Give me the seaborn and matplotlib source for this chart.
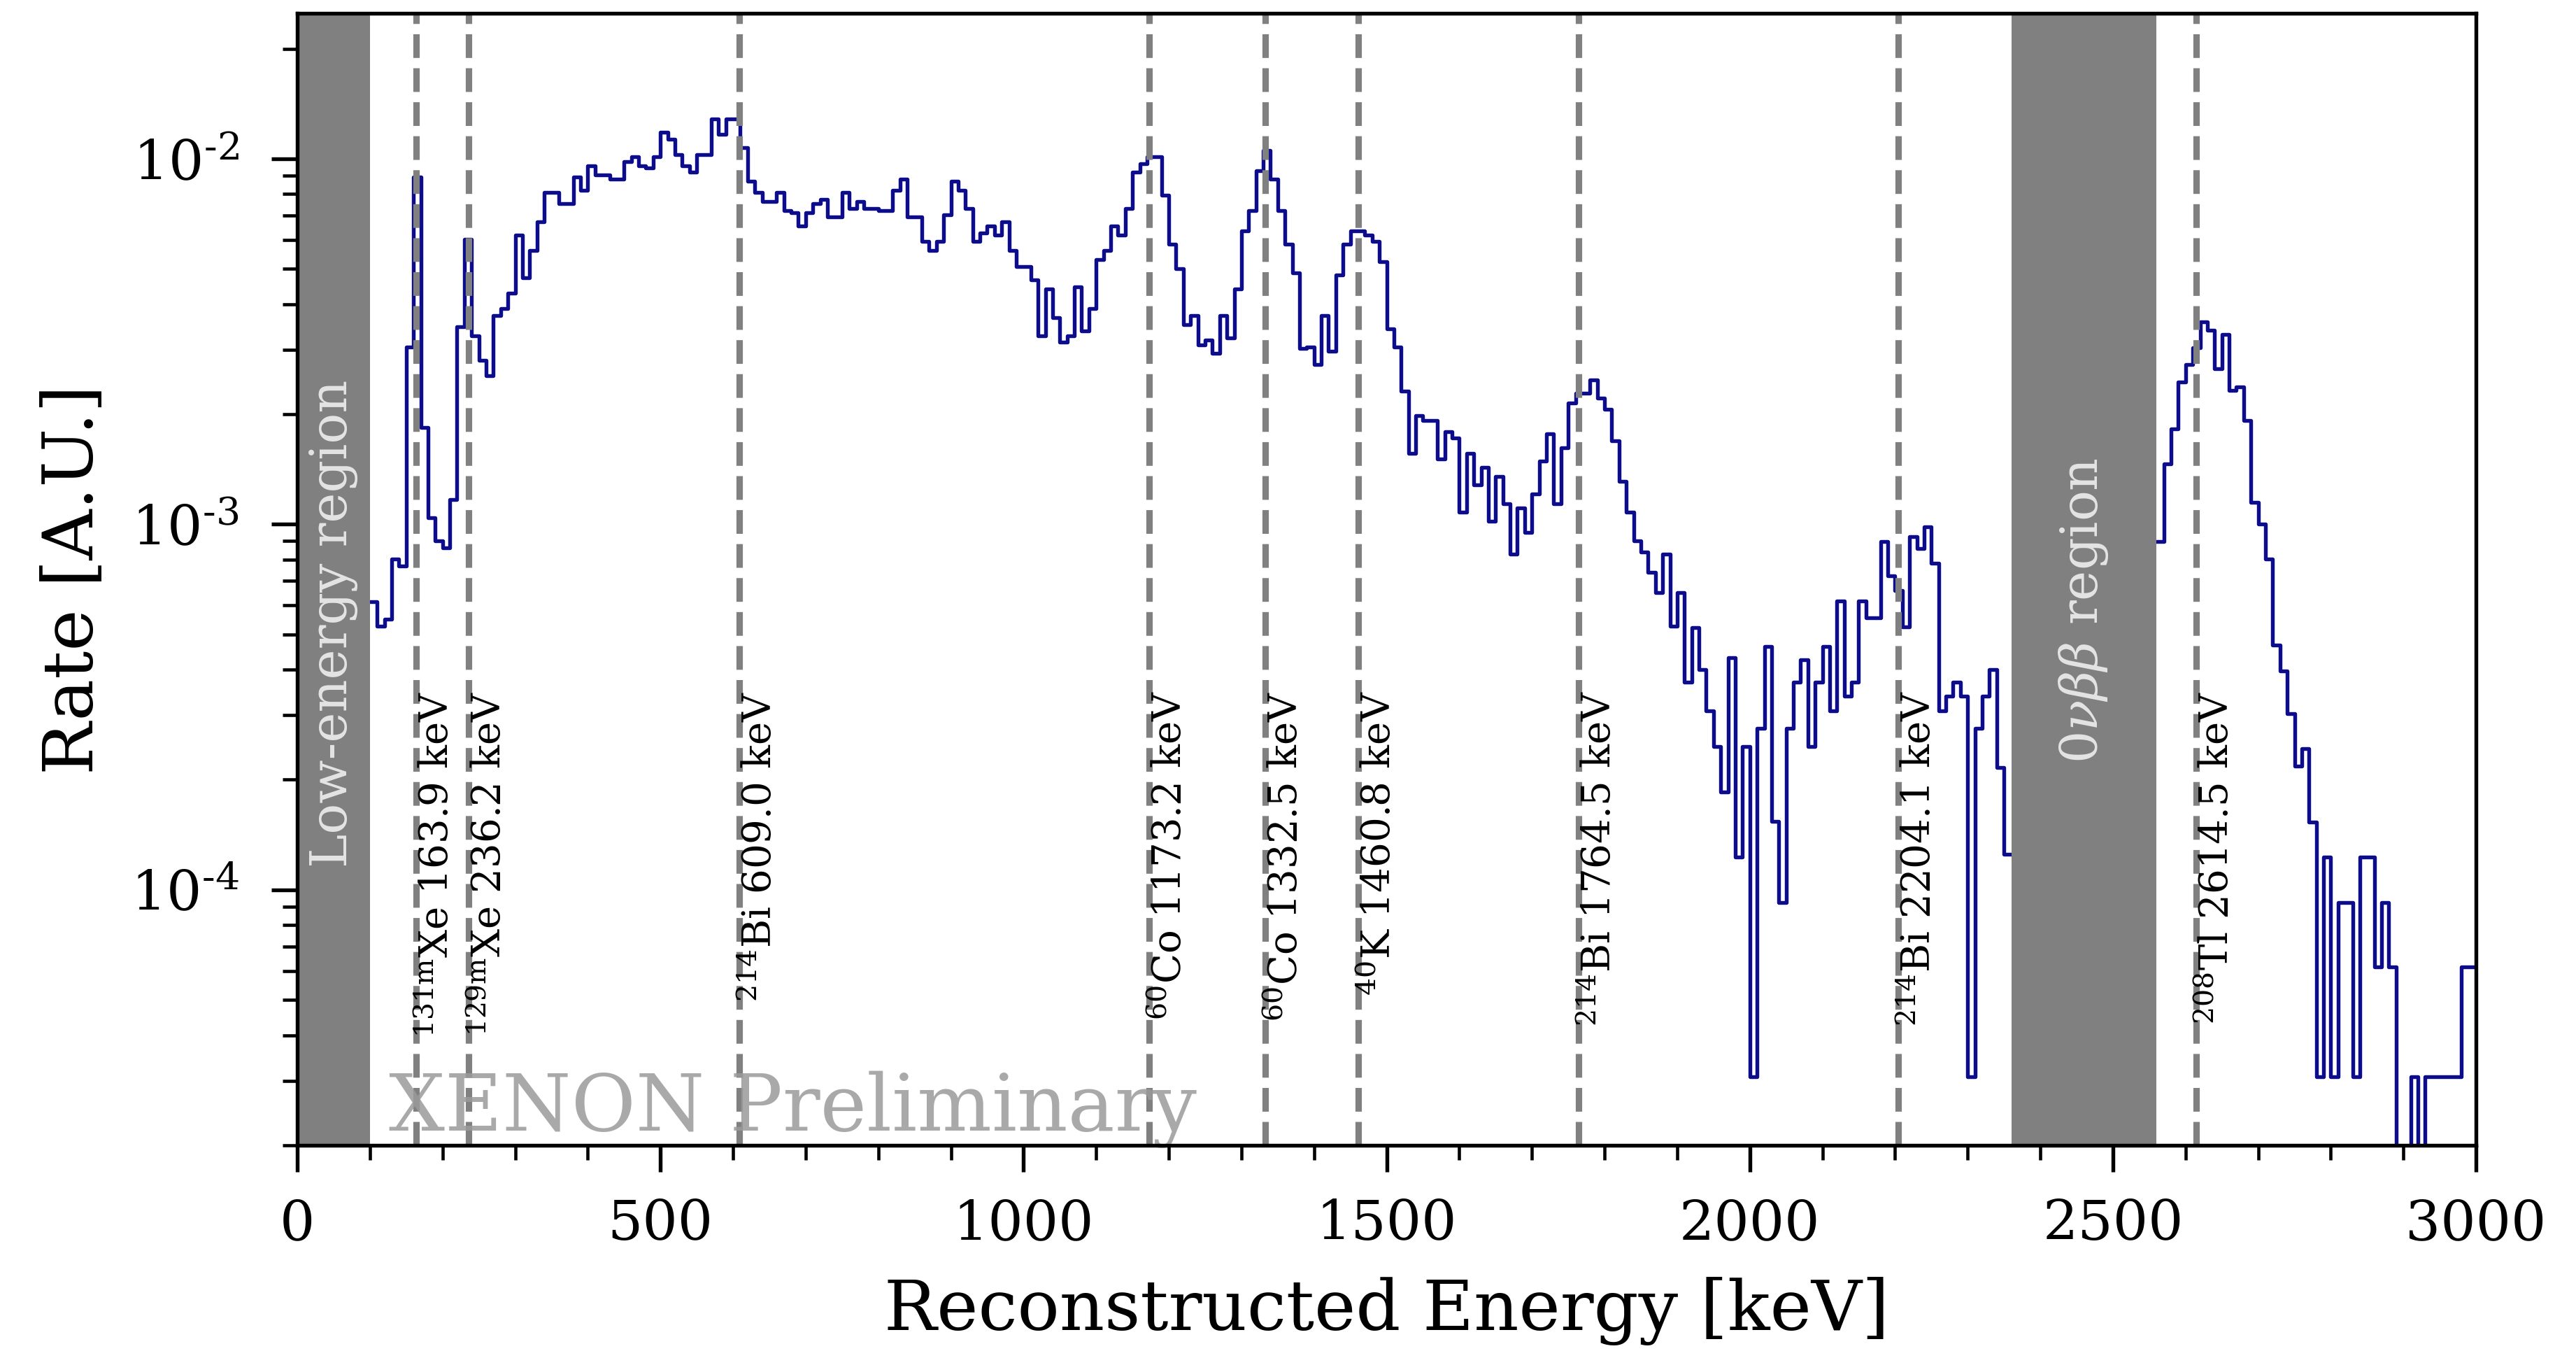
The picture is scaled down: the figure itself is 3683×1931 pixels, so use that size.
import numpy as np
import pandas as pd
import matplotlib
matplotlib.use("Agg")
import matplotlib.pyplot as plt
from matplotlib.ticker import MultipleLocator, FuncFormatter
import seaborn as sns

# ---------------- data ----------------
bin_width_kev = 10

# visible spectrum below the 0vbb window: bins starting at 100 keV
low_start_kev = 100
rate_low = [
    6.15e-4, 5.27e-4, 5.50e-4, 8.04e-4, 7.70e-4, 3.06e-3, 8.91e-3, 1.84e-3, 1.04e-3, 8.99e-4,   # 100
    8.62e-4, 1.17e-3, 3.47e-3, 6.01e-3, 3.28e-3, 2.81e-3, 2.55e-3, 3.72e-3, 3.89e-3, 4.29e-3,   # 200
    6.18e-3, 4.73e-3, 5.60e-3, 6.73e-3, 8.07e-3, 8.07e-3, 7.52e-3, 7.52e-3, 8.91e-3, 8.19e-3,   # 300
    9.56e-3, 9.04e-3, 9.04e-3, 8.79e-3, 8.79e-3, 9.83e-3, 1.011e-2, 9.56e-3, 9.42e-3, 1.011e-2,  # 400
    1.18e-2, 1.13e-2, 1.026e-2, 9.56e-3, 9.17e-3, 1.026e-2, 1.026e-2, 1.285e-2, 1.164e-2, 1.285e-2,  # 500
    1.285e-2, 1.07e-2, 8.66e-3, 8.07e-3, 7.63e-3, 7.63e-3, 8.07e-3, 7.21e-3, 7.11e-3, 6.54e-3,  # 600
    7.11e-3, 7.52e-3, 7.74e-3, 6.92e-3, 6.92e-3, 8.07e-3, 7.32e-3, 7.63e-3, 7.32e-3, 7.32e-3,   # 700
    7.21e-3, 7.21e-3, 8.19e-3, 8.79e-3, 6.92e-3, 6.92e-3, 5.93e-3, 5.60e-3, 5.93e-3, 7.02e-3,   # 800
    8.66e-3, 8.19e-3, 7.32e-3, 5.93e-3, 6.27e-3, 6.54e-3, 6.18e-3, 6.73e-3, 5.60e-3, 5.08e-3,   # 900
    5.08e-3, 4.66e-3, 3.28e-3, 4.41e-3, 3.67e-3, 3.15e-3, 3.28e-3, 4.47e-3, 3.38e-3, 3.89e-3,   # 1000
    5.29e-3, 5.60e-3, 6.54e-3, 6.18e-3, 7.32e-3, 9.17e-3, 9.69e-3, 1.011e-2, 1.011e-2, 7.96e-3,  # 1100
    5.84e-3, 5.01e-3, 3.52e-3, 3.72e-3, 3.10e-3, 3.19e-3, 2.93e-3, 3.72e-3, 3.24e-3, 4.41e-3,   # 1200
    6.36e-3, 7.21e-3, 9.29e-3, 1.055e-2, 8.79e-3, 7.21e-3, 5.84e-3, 4.87e-3, 3.02e-3, 3.06e-3,  # 1300
    2.73e-3, 3.72e-3, 2.97e-3, 4.80e-3, 5.84e-3, 6.36e-3, 6.36e-3, 6.18e-3, 5.93e-3, 5.22e-3,   # 1400
    3.42e-3, 3.06e-3, 2.31e-3, 1.56e-3, 1.98e-3, 1.92e-3, 1.92e-3, 1.51e-3, 1.79e-3, 1.72e-3,   # 1500
    1.08e-3, 1.56e-3, 1.28e-3, 1.43e-3, 1.02e-3, 1.35e-3, 1.14e-3, 8.27e-4, 1.11e-3, 9.51e-4,   # 1600
    1.21e-3, 1.49e-3, 1.77e-3, 1.14e-3, 1.62e-3, 2.15e-3, 2.28e-3, 2.28e-3, 2.48e-3, 2.21e-3,   # 1700
    2.06e-3, 1.69e-3, 1.31e-3, 1.08e-3, 8.99e-4, 8.39e-4, 7.39e-4, 6.51e-4, 8.27e-4, 5.27e-4,   # 1800
    6.51e-4, 3.69e-4, 5.21e-4, 4.01e-4, 3.08e-4, 2.46e-4, 1.85e-4, 4.31e-4, 1.23e-4, 2.46e-4,   # 1900
    3.08e-5, 2.77e-4, 4.62e-4, 1.54e-4, 9.24e-5, 2.77e-4, 3.69e-4, 4.26e-4, 2.46e-4, 3.69e-4,   # 2000
    4.62e-4, 3.08e-4, 6.16e-4, 3.39e-4, 3.69e-4, 6.16e-4, 5.54e-4, 5.54e-4, 8.98e-4, 7.23e-4,   # 2100
    6.59e-4, 5.23e-4, 9.26e-4, 8.57e-4, 9.85e-4, 7.81e-4, 3.08e-4, 3.39e-4, 3.69e-4, 3.39e-4,   # 2200
    3.08e-5, 2.77e-4, 3.39e-4, 4.01e-4, 2.16e-4, 1.25e-4,                                       # 2300
]

# visible spectrum above the 0vbb window: bins starting at 2560 keV
high_start_kev = 2560
rate_high = [
    8.97e-4, 1.46e-3, 1.82e-3, 2.45e-3, 2.73e-3, 3.04e-3, 3.58e-3, 3.39e-3, 2.66e-3, 3.30e-3,   # 2560
    2.32e-3, 2.38e-3, 1.92e-3, 1.15e-3, 1.00e-3, 8.04e-4, 4.67e-4, 3.97e-4, 3.03e-4, 2.18e-4,   # 2660
    2.43e-4, 1.53e-4, 3.08e-5, 1.23e-4, 3.08e-5, 9.24e-5, 9.24e-5, 3.08e-5, 1.23e-4, 1.23e-4,   # 2760
    6.16e-5, 9.24e-5, 6.16e-5, 0.0, 0.0, 3.08e-5, 0.0, 3.08e-5, 3.08e-5, 3.08e-5,               # 2860
    3.08e-5, 3.08e-5, 6.16e-5, 6.16e-5,                                                         # 2960
]

line_energies = [163.9, 236.2, 609.0, 1173.2, 1332.5, 1460.8, 1764.5, 2204.1, 2614.5]
line_labels = [
    r"$^{\mathrm{131m}}$Xe 163.9 keV",
    r"$^{\mathrm{129m}}$Xe 236.2 keV",
    r"$^{214}$Bi 609.0 keV",
    r"$^{60}$Co 1173.2 keV",
    r"$^{60}$Co 1332.5 keV",
    r"$^{40}$K 1460.8 keV",
    r"$^{214}$Bi 1764.5 keV",
    r"$^{214}$Bi 2204.1 keV",
    r"$^{208}$Tl 2614.5 keV",
]
low_energy_region = (0, 100)
roi_region = (2360, 2560)
x_major_ticks = [0, 500, 1000, 1500, 2000, 2500, 3000]

# ---------------- style ----------------
sns.set_style("ticks")
plt.rcParams["font.family"] = ["DejaVu Serif"]
plt.rcParams["mathtext.fontset"] = "dejavuserif"
plt.rcParams["axes.unicode_minus"] = False
for key in ["text.color", "axes.labelcolor", "xtick.color", "ytick.color"]:
    plt.rcParams[key] = "black"

fig = plt.figure(figsize=(3683 / 300, 1931 / 300), dpi=300)
ax = fig.add_axes([0.1154, 0.1523, 0.8458, 0.8379])


def step_frame(start, rates):
    edges = start + bin_width_kev * np.arange(len(rates) + 1)
    vals = list(rates) + [rates[-1]]
    return pd.DataFrame({"energy": edges, "rate": vals})


for start, rates in [(low_start_kev, rate_low), (high_start_kev, rate_high)]:
    sns.lineplot(data=step_frame(start, rates), x="energy", y="rate", ax=ax,
                 drawstyle="steps-post", color="#0d0d8c", linewidth=1.3,
                 estimator=None, sort=False, zorder=2)

ax.set_yscale("log")
ax.set_xlim(0, 3000)
ax.set_ylim(2.0e-5, 2.5e-2)


def pow_label(v, pos):
    e = int(round(np.log10(v)))
    return r"$10^{\text{-}%d}$" % abs(e) if e < 0 else r"$10^{%d}$" % e


ax.yaxis.set_major_formatter(FuncFormatter(pow_label))

# shaded regions
for lo, hi in [low_energy_region, roi_region]:
    ax.axvspan(lo, hi, color="#808080", lw=0, zorder=3)

# gamma lines
for e, lab in zip(line_energies, line_labels):
    ax.axvline(e, color="#808080", ls="--", lw=2.2, zorder=3)
    ax.text(e + 3, 3.5e-4, lab, rotation=90, ha="left", va="top",
            fontsize=13.5, color="black", zorder=4)

ax.text(sum(low_energy_region) / 2, 5.35e-4, "Low-energy region", rotation=90,
        ha="center", va="center", color="#e4e4e4", fontsize=17.5, zorder=4)
ax.text(sum(roi_region) / 2, 5.8e-4, r"$0\nu\beta\beta$ region", rotation=90,
        ha="center", va="center", color="#e4e4e4", fontsize=17.5, zorder=4)

ax.text(0.042, 0.013, "XENON Preliminary", transform=ax.transAxes,
        fontsize=27, color="#9a9a9a", alpha=0.85, ha="left", va="baseline", zorder=5)

# axes styling
ax.set_xticks(x_major_ticks)
ax.xaxis.set_minor_locator(MultipleLocator(100))
ax.tick_params(axis="both", which="major", direction="out", length=9, width=1.3,
               labelsize=19, top=False, right=False, colors="black")
ax.tick_params(axis="both", which="minor", direction="out", length=5, width=1.1,
               top=False, right=False, colors="black")
ax.tick_params(axis="x", which="major", pad=9)
ax.tick_params(axis="y", which="major", pad=11)
for sp in ax.spines.values():
    sp.set_visible(True)
    sp.set_linewidth(1.3)
    sp.set_color("black")
    sp.set_zorder(6)

ax.set_xlabel("Reconstructed Energy [keV]", fontsize=24, labelpad=9)
ax.set_ylabel("Rate [A.U.]", fontsize=24, labelpad=8)

fig.savefig("out.png", dpi=300)
